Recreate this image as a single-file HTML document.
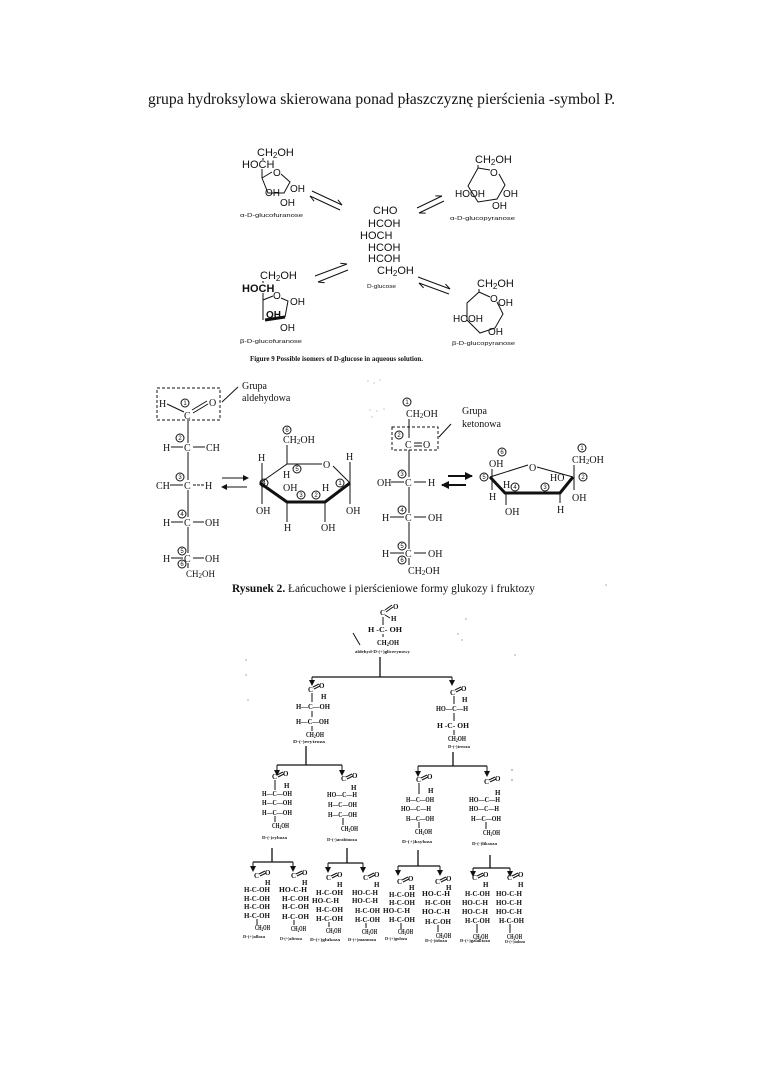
<!DOCTYPE html>
<html><head><meta charset="utf-8">
<style>
html,body{margin:0;padding:0;background:#fff;}
body{width:760px;height:1075px;position:relative;overflow:hidden;}
svg{position:absolute;left:0;top:0;}
.s{font-family:"Liberation Sans",sans-serif;fill:#111;}
.r{font-family:"Liberation Serif",serif;fill:#111;}
.t{font-family:"Liberation Serif",serif;fill:#111;font-weight:bold;font-size:7px;}
.cap{font-family:"Liberation Serif",serif;fill:#222;font-weight:bold;font-size:4.6px;}
.ln{stroke:#111;stroke-width:1;fill:none;}
.tl{stroke:#111;stroke-width:1.3;fill:none;}
.bd{stroke:#111;stroke-width:3;fill:none;stroke-linejoin:round;}
.cn{font-family:"Liberation Sans",sans-serif;font-size:6px;fill:#111;text-anchor:middle;}
</style></head>
<body>
<svg width="760" height="1075" viewBox="0 0 760 1075" xmlns="http://www.w3.org/2000/svg">
<defs>
<marker id="ah" markerWidth="6" markerHeight="6" refX="5" refY="3" orient="auto" markerUnits="userSpaceOnUse"><path d="M0,0 L6,3 L0,6 z" fill="#111"/></marker>
<marker id="ah2" markerWidth="8" markerHeight="8" refX="7" refY="4" orient="auto" markerUnits="userSpaceOnUse"><path d="M0,0 L8,4 L0,8 z" fill="#111"/></marker>
</defs>

<!-- Title -->
<text x="148" y="104" class="r" font-size="16" textLength="467" lengthAdjust="spacingAndGlyphs">grupa hydroksylowa skierowana ponad płaszczyznę pierścienia -symbol P.</text>

<!-- ============ FIGURE 9 ============ -->
<text x="257" y="156" class="s" font-size="11">CH<tspan font-size="8" dy="2">2</tspan><tspan dy="-2">OH</tspan></text>
<text x="242" y="168" class="s" font-size="11">HOCH</text>
<line x1="263" y1="158" x2="263" y2="160" class="ln"/>
<line x1="262" y1="169" x2="262" y2="178" class="ln"/>
<polyline points="262,178 272,172" class="ln"/>
<text x="273" y="176" class="s" font-size="10">O</text>
<polyline points="281,174 290,182 284,193 268,193 262,178" class="ln"/>
<text x="265" y="196" class="s" font-size="10">OH</text>
<text x="290" y="192" class="s" font-size="10">OH</text>
<text x="280" y="206" class="s" font-size="10">OH</text>
<text x="240" y="217" class="s" font-size="5" textLength="63" lengthAdjust="spacingAndGlyphs">α-D-glucofuranose</text>

<line x1="312" y1="191" x2="342" y2="205" class="ln"/><line x1="342" y1="205" x2="337.9" y2="199.8" class="ln"/>
<line x1="340" y1="210" x2="310" y2="196" class="ln"/><line x1="310" y1="196" x2="314.1" y2="201.2" class="ln"/>

<text x="373" y="214" class="s" font-size="11">CHO</text>
<text x="368" y="227" class="s" font-size="11">HCOH</text>
<text x="360" y="239" class="s" font-size="11">HOCH</text>
<text x="368" y="251" class="s" font-size="11">HCOH</text>
<text x="368" y="262" class="s" font-size="11">HCOH</text>
<text x="377" y="274" class="s" font-size="11">CH<tspan font-size="8" dy="2">2</tspan><tspan dy="-2">OH</tspan></text>
<text x="367" y="288" class="s" font-size="5" textLength="29" lengthAdjust="spacingAndGlyphs">D-glucose</text>

<line x1="417" y1="208" x2="442" y2="196" class="ln"/><line x1="442" y1="196" x2="435.3" y2="195.9" class="ln"/>
<line x1="444" y1="201" x2="419" y2="213" class="ln"/><line x1="419" y1="213" x2="425.7" y2="213.1" class="ln"/>

<text x="475" y="163" class="s" font-size="11">CH<tspan font-size="8" dy="2">2</tspan><tspan dy="-2">OH</tspan></text>
<polyline points="478,165 478,168 468,186 478,202 497,199 505,185 499,174" class="ln"/>
<line x1="478" y1="168" x2="490" y2="170" class="ln"/>
<text x="490" y="176" class="s" font-size="10">O</text>
<text x="455" y="197" class="s" font-size="10">HO</text>
<text x="470" y="197" class="s" font-size="10">OH</text>
<text x="503" y="197" class="s" font-size="10">OH</text>
<text x="492" y="209" class="s" font-size="10">OH</text>
<text x="450" y="220" class="s" font-size="5" textLength="65" lengthAdjust="spacingAndGlyphs">α-D-glucopyranose</text>

<line x1="315" y1="276" x2="347" y2="264" class="ln"/><line x1="347" y1="264" x2="340.3" y2="263.3" class="ln"/>
<line x1="348" y1="270" x2="318" y2="282" class="ln"/><line x1="318" y1="282" x2="324.6" y2="282.7" class="ln"/>

<text x="260" y="279" class="s" font-size="11">CH<tspan font-size="8" dy="2">2</tspan><tspan dy="-2">OH</tspan></text>
<text x="242" y="292" class="s" font-size="11" font-weight="bold">HOCH</text>
<line x1="263" y1="281" x2="263" y2="283" class="ln"/>
<line x1="263" y1="293" x2="263" y2="320" class="ln" stroke-width="1.5"/>
<line x1="263" y1="300" x2="273" y2="296" class="ln"/>
<text x="273" y="299" class="s" font-size="10">O</text>
<polyline points="281,298 288,301 285,317" class="ln"/>
<line x1="265" y1="320" x2="285" y2="317" class="bd"/>
<text x="290" y="305" class="s" font-size="10">OH</text>
<text x="266" y="318" class="s" font-size="10" font-weight="bold">OH</text>
<text x="280" y="331" class="s" font-size="10">OH</text>
<text x="240" y="343" class="s" font-size="5" textLength="62" lengthAdjust="spacingAndGlyphs">β-D-glucofuranose</text>

<line x1="418" y1="277" x2="450" y2="289" class="ln"/><line x1="450" y1="289" x2="445.5" y2="284.1" class="ln"/>
<line x1="449" y1="294" x2="419" y2="283" class="ln"/><line x1="419" y1="283" x2="423.6" y2="287.9" class="ln"/>

<text x="477" y="287" class="s" font-size="11">CH<tspan font-size="8" dy="2">2</tspan><tspan dy="-2">OH</tspan></text>
<polyline points="479,289 479,292 467,303 467,320 480,333 495,328 503,314 497,302" class="ln"/>
<line x1="479" y1="292" x2="490" y2="297" class="ln"/>
<text x="490" y="302" class="s" font-size="10">O</text>
<text x="498" y="306" class="s" font-size="10">OH</text>
<text x="453" y="322" class="s" font-size="10">HO</text>
<text x="468" y="322" class="s" font-size="10">OH</text>
<text x="488" y="335" class="s" font-size="10">OH</text>
<text x="452" y="345" class="s" font-size="5" textLength="63" lengthAdjust="spacingAndGlyphs">β-D-glucopyranose</text>

<text x="250" y="361" class="r" font-size="7" font-weight="bold" textLength="173" lengthAdjust="spacingAndGlyphs">Figure 9   Possible isomers of D-glucose in aqueous solution.</text>

<!-- ============ FIGURE 2 ============ -->
<rect x="157" y="388" width="63" height="32" fill="none" stroke="#111" stroke-width="1" stroke-dasharray="3,2"/>
<text x="159" y="407" class="r" font-size="10">H</text>
<line x1="167" y1="404" x2="184" y2="412" class="ln"/>
<circle cx="185" cy="403" r="4" class="ln"/><text x="185" y="405" class="cn">1</text>
<line x1="192" y1="410" x2="207" y2="401" class="ln"/><line x1="193" y1="413" x2="208" y2="404" class="ln"/>
<text x="209" y="406" class="r" font-size="10">O</text>
<text x="184" y="419" class="r" font-size="10">C</text>
<line x1="222" y1="402" x2="238" y2="387" class="ln"/>
<text x="242" y="389" class="r" font-size="10">Grupa</text>
<text x="242" y="401" class="r" font-size="10">aldehydowa</text>
<line x1="188" y1="421" x2="188" y2="443" class="ln"/>
<line x1="188" y1="452" x2="188" y2="480" class="ln"/>
<line x1="188" y1="490" x2="188" y2="517" class="ln"/>
<line x1="188" y1="527" x2="188" y2="553" class="ln"/>

<text x="163" y="451" class="r" font-size="10">H</text><line x1="171" y1="447" x2="183" y2="447" class="ln"/>
<text x="184" y="451" class="r" font-size="10">C</text><line x1="193" y1="447" x2="205" y2="447" class="ln"/>
<text x="206" y="451" class="r" font-size="10">CH</text>
<circle cx="180" cy="438" r="4" class="ln"/><text x="180" y="440" class="cn">2</text>

<text x="156" y="489" class="r" font-size="10">CH</text><line x1="170" y1="485" x2="183" y2="485" class="ln"/>
<text x="184" y="489" class="r" font-size="10">C</text><line x1="193" y1="485" x2="204" y2="485" class="ln" stroke-dasharray="3,1"/>
<text x="205" y="489" class="r" font-size="10">H</text>
<circle cx="180" cy="477" r="4" class="ln"/><text x="180" y="479" class="cn">3</text>

<text x="163" y="526" class="r" font-size="10">H</text><line x1="171" y1="522" x2="183" y2="522" class="ln"/>
<text x="184" y="526" class="r" font-size="10">C</text><line x1="193" y1="522" x2="204" y2="522" class="ln"/>
<text x="205" y="526" class="r" font-size="10">OH</text>
<circle cx="182" cy="514" r="4" class="ln"/><text x="182" y="516" class="cn">4</text>

<text x="163" y="562" class="r" font-size="10">H</text><line x1="171" y1="558" x2="183" y2="558" class="ln"/>
<text x="184" y="562" class="r" font-size="10">C</text><line x1="193" y1="558" x2="204" y2="558" class="ln"/>
<text x="205" y="562" class="r" font-size="10">OH</text>
<circle cx="182" cy="551" r="4" class="ln"/><text x="182" y="553" class="cn">5</text>
<circle cx="182" cy="564" r="4" class="ln"/><text x="182" y="566" class="cn">6</text>
<line x1="188" y1="563" x2="188" y2="568" class="ln"/>
<text x="186" y="577" class="r" font-size="9">CH<tspan font-size="7" dy="1">2</tspan><tspan dy="-1">OH</tspan></text>

<line x1="222" y1="478" x2="248" y2="478" class="ln" marker-end="url(#ah)"/>
<line x1="247" y1="487" x2="222" y2="487" class="ln" marker-end="url(#ah)"/>

<polyline points="260,483 287,464 322,464" class="ln"/>
<polyline points="333,466 350,483" class="ln"/>
<text x="323" y="468" class="r" font-size="10">O</text>
<polyline points="260,483 287,502 325,502 350,483" class="bd"/>
<circle cx="287" cy="430" r="4" class="ln"/><text x="287" y="432" class="cn">6</text>
<text x="283" y="443" class="r" font-size="10">CH<tspan font-size="7" dy="1">2</tspan><tspan dy="-1">OH</tspan></text>
<line x1="287" y1="445" x2="287" y2="464" class="ln"/>
<text x="283" y="478" class="r" font-size="10">H</text>
<circle cx="297" cy="469" r="4" class="ln"/><text x="297" y="471" class="cn">5</text>
<text x="258" y="461" class="r" font-size="10">H</text>
<line x1="262" y1="463" x2="262" y2="504" class="ln"/>
<circle cx="264" cy="483" r="4" class="ln"/><text x="264" y="485" class="cn">4</text>
<text x="256" y="514" class="r" font-size="10">OH</text>
<text x="283" y="491" class="r" font-size="10">OH</text>
<circle cx="301" cy="495" r="4" class="ln"/><text x="301" y="497" class="cn">3</text>
<line x1="287" y1="502" x2="287" y2="522" class="ln"/>
<text x="284" y="531" class="r" font-size="10">H</text>
<text x="322" y="491" class="r" font-size="10">H</text>
<circle cx="316" cy="495" r="4" class="ln"/><text x="316" y="497" class="cn">2</text>
<line x1="325" y1="502" x2="325" y2="522" class="ln"/>
<text x="321" y="531" class="r" font-size="10">OH</text>
<text x="346" y="460" class="r" font-size="10">H</text>
<line x1="350" y1="462" x2="350" y2="504" class="ln"/>
<circle cx="340" cy="483" r="4" class="ln"/><text x="340" y="485" class="cn">1</text>
<text x="346" y="514" class="r" font-size="10">OH</text>

<!-- fructose chain -->
<circle cx="407" cy="402" r="4" class="ln"/><text x="407" y="404" class="cn">1</text>
<text x="406" y="417" class="r" font-size="10">CH<tspan font-size="7" dy="1">2</tspan><tspan dy="-1">OH</tspan></text>
<rect x="392" y="427" width="46" height="23" fill="none" stroke="#111" stroke-width="1" stroke-dasharray="3,2"/>
<line x1="409" y1="419" x2="409" y2="438" class="ln"/>
<circle cx="399" cy="435" r="4" class="ln"/><text x="399" y="437" class="cn">2</text>
<text x="405" y="448" class="r" font-size="10">C</text>
<line x1="414" y1="443" x2="422" y2="443" class="ln" stroke-width="1.5"/><line x1="414" y1="446" x2="422" y2="446" class="ln" stroke-width="1.5"/>
<text x="423" y="448" class="r" font-size="10">O</text>
<line x1="439" y1="437" x2="451" y2="424" class="ln"/>
<text x="462" y="414" class="r" font-size="10">Grupa</text>
<text x="462" y="427" class="r" font-size="10">ketonowa</text>
<line x1="409" y1="450" x2="409" y2="477" class="ln"/>
<line x1="409" y1="487" x2="409" y2="513" class="ln"/>
<line x1="409" y1="522" x2="409" y2="549" class="ln"/>

<text x="377" y="486" class="r" font-size="10">OH</text><line x1="391" y1="482" x2="404" y2="482" class="ln"/>
<text x="405" y="486" class="r" font-size="10">C</text><line x1="414" y1="482" x2="426" y2="482" class="ln"/>
<text x="428" y="486" class="r" font-size="10">H</text>
<circle cx="402" cy="474" r="4" class="ln"/><text x="402" y="476" class="cn">3</text>

<text x="382" y="521" class="r" font-size="10">H</text><line x1="390" y1="517" x2="404" y2="517" class="ln"/>
<text x="405" y="521" class="r" font-size="10">C</text><line x1="414" y1="517" x2="426" y2="517" class="ln"/>
<text x="428" y="521" class="r" font-size="10">OH</text>
<circle cx="402" cy="510" r="4" class="ln"/><text x="402" y="512" class="cn">4</text>

<text x="382" y="557" class="r" font-size="10">H</text><line x1="390" y1="553" x2="404" y2="553" class="ln"/>
<text x="405" y="557" class="r" font-size="10">C</text><line x1="414" y1="553" x2="426" y2="553" class="ln"/>
<text x="428" y="557" class="r" font-size="10">OH</text>
<circle cx="402" cy="546" r="4" class="ln"/><text x="402" y="548" class="cn">5</text>
<circle cx="402" cy="560" r="4" class="ln"/><text x="402" y="562" class="cn">6</text>
<line x1="409" y1="558" x2="409" y2="565" class="ln"/>
<text x="408" y="574" class="r" font-size="10">CH<tspan font-size="7" dy="1">2</tspan><tspan dy="-1">OH</tspan></text>

<line x1="448" y1="476" x2="472" y2="476" stroke="#111" stroke-width="2" marker-end="url(#ah2)"/>
<line x1="466" y1="485" x2="442" y2="485" stroke="#111" stroke-width="2" marker-end="url(#ah2)"/>

<!-- fructofuranose -->
<polyline points="490,477 528,465" class="ln"/>
<text x="529" y="471" class="r" font-size="10">O</text>
<polyline points="537,467 573,477" class="ln"/>
<polyline points="490,477 505,493 560,493 573,477" class="bd"/>
<circle cx="502" cy="452" r="4" class="ln"/><text x="502" y="454" class="cn">6</text>
<text x="489" y="467" class="r" font-size="10">OH</text>
<line x1="492" y1="469" x2="492" y2="490" class="ln"/>
<circle cx="484" cy="477" r="4" class="ln"/><text x="484" y="479" class="cn">5</text>
<text x="489" y="500" class="r" font-size="10">H</text>
<text x="503" y="488" class="r" font-size="10">H</text>
<circle cx="515" cy="487" r="4" class="ln"/><text x="515" y="489" class="cn">4</text>
<line x1="506" y1="493" x2="506" y2="505" class="ln"/>
<text x="505" y="515" class="r" font-size="10">OH</text>
<circle cx="545" cy="487" r="4" class="ln"/><text x="545" y="489" class="cn">3</text>
<text x="550" y="481" class="r" font-size="10">HO</text>
<line x1="560" y1="493" x2="560" y2="503" class="ln"/>
<text x="557" y="513" class="r" font-size="10">H</text>
<circle cx="582" cy="448" r="4" class="ln"/><text x="582" y="450" class="cn">1</text>
<text x="572" y="463" class="r" font-size="10">CH<tspan font-size="7" dy="1">2</tspan><tspan dy="-1">OH</tspan></text>
<line x1="574" y1="465" x2="574" y2="490" class="ln"/>
<circle cx="583" cy="477" r="4" class="ln"/><text x="583" y="479" class="cn">2</text>
<text x="572" y="501" class="r" font-size="10">OH</text>

<text x="232" y="592" class="r" font-size="11.5" textLength="303" lengthAdjust="spacingAndGlyphs"><tspan font-weight="bold">Rysunek 2.</tspan> Łańcuchowe i pierścieniowe formy glukozy i fruktozy</text>

<!-- scan noise (faint specks) -->
<g fill="#c8c8c8">
<circle cx="368" cy="381" r="0.8"/><circle cx="374" cy="383" r="0.8"/><circle cx="380" cy="380" r="0.8"/><circle cx="370" cy="410" r="0.8"/><circle cx="377" cy="411" r="0.8"/><circle cx="384" cy="409" r="0.8"/><circle cx="372" cy="417" r="0.8"/>
<circle cx="246" cy="660" r="1"/><circle cx="246" cy="675" r="1"/><circle cx="248" cy="700" r="1"/><circle cx="515" cy="655" r="1"/><circle cx="512" cy="770" r="1.2"/><circle cx="512" cy="780" r="1.2"/><circle cx="462" cy="640" r="1"/><circle cx="458" cy="634" r="1"/><circle cx="606" cy="585" r="1"/><circle cx="466" cy="619" r="1"/>
</g>

<!-- ============ TREE ============ -->
<text x="380" y="615" class="t">C</text>
<line x1="385" y1="610" x2="392" y2="605" class="ln" stroke-width="0.8"/><line x1="386" y1="612" x2="393" y2="607" class="ln" stroke-width="0.8"/>
<text x="393" y="609" class="t">O</text>
<line x1="385" y1="615" x2="390" y2="618" class="ln" stroke-width="0.8"/>
<text x="391" y="621" class="t">H</text>
<line x1="383" y1="617" x2="383" y2="625" class="ln" stroke-width="1.5"/>
<text x="368" y="632" class="t" textLength="34" lengthAdjust="spacingAndGlyphs">H  -C-  OH</text>
<line x1="383" y1="634" x2="383" y2="637" class="ln"/>
<text x="377" y="645" class="t" textLength="22" lengthAdjust="spacingAndGlyphs">CH<tspan font-size="5" dy="1">2</tspan><tspan dy="-1">OH</tspan></text>
<text x="355" y="653" class="cap" textLength="55" lengthAdjust="spacingAndGlyphs">aldehyd-D-(+)glicerynowy</text>
<line x1="353" y1="633" x2="360" y2="645" class="ln" stroke-width="0.8"/>

<line x1="380" y1="657" x2="380" y2="677" class="tl"/>
<line x1="312" y1="677" x2="452" y2="677" class="tl" stroke-width="1.5"/>
<line x1="312" y1="677" x2="312" y2="685" class="ln" marker-end="url(#ah)"/>
<line x1="452" y1="677" x2="452" y2="685" class="ln" marker-end="url(#ah)"/>

<!-- erythrose -->
<text x="308" y="692" class="t">C</text>
<line x1="313" y1="687" x2="319" y2="684" class="ln" stroke-width="0.8"/><line x1="314" y1="689" x2="320" y2="686" class="ln" stroke-width="0.8"/>
<text x="319" y="688" class="t">O</text>
<text x="321" y="699" class="t">H</text>
<line x1="312" y1="693" x2="312" y2="702" class="ln" stroke-width="1.5"/>
<text x="296" y="709" class="t" textLength="34" lengthAdjust="spacingAndGlyphs">H—C—OH</text>
<line x1="312" y1="711" x2="312" y2="717" class="ln"/>
<text x="296" y="724" class="t" textLength="33" lengthAdjust="spacingAndGlyphs">H—C—OH</text>
<line x1="312" y1="726" x2="312" y2="731" class="ln"/>
<text x="306" y="737" class="t" textLength="18" lengthAdjust="spacingAndGlyphs">CH<tspan font-size="5" dy="1">2</tspan><tspan dy="-1">OH</tspan></text>
<text x="293" y="743" class="cap" textLength="32" lengthAdjust="spacingAndGlyphs">D-(-)erytroza</text>

<!-- threose -->
<text x="450" y="695" class="t">C</text>
<line x1="455" y1="690" x2="461" y2="687" class="ln" stroke-width="0.8"/><line x1="456" y1="692" x2="462" y2="689" class="ln" stroke-width="0.8"/>
<text x="461" y="691" class="t">O</text>
<text x="462" y="702" class="t">H</text>
<line x1="454" y1="696" x2="454" y2="704" class="ln"/>
<text x="436" y="711" class="t" textLength="32" lengthAdjust="spacingAndGlyphs">HO—C—H</text>
<line x1="454" y1="713" x2="454" y2="721" class="ln"/>
<text x="437" y="728" class="t" textLength="32" lengthAdjust="spacingAndGlyphs">H  -C-  OH</text>
<line x1="454" y1="730" x2="454" y2="735" class="ln"/>
<text x="448" y="741" class="t" textLength="18" lengthAdjust="spacingAndGlyphs">CH<tspan font-size="5" dy="1">2</tspan><tspan dy="-1">OH</tspan></text>
<text x="448" y="748" class="cap" textLength="22" lengthAdjust="spacingAndGlyphs">D-(-)treoza</text>

<!-- tree level 3 lines -->
<line x1="306" y1="746" x2="306" y2="765" class="tl"/>
<line x1="277" y1="765" x2="342" y2="765" class="tl" stroke-width="1.5"/>
<line x1="277" y1="765" x2="277" y2="775" class="ln" marker-end="url(#ah)"/>
<line x1="342" y1="765" x2="342" y2="775" class="ln" marker-end="url(#ah)"/>
<line x1="453" y1="752" x2="453" y2="766" class="tl"/>
<line x1="418" y1="766" x2="487" y2="766" class="tl" stroke-width="1.5"/>
<line x1="418" y1="766" x2="418" y2="776" class="ln" marker-end="url(#ah)"/>
<line x1="487" y1="766" x2="487" y2="776" class="ln" marker-end="url(#ah)"/>

<!-- ribose -->
<text x="272" y="779" class="t">C</text>
<line x1="277" y1="775" x2="283" y2="772" class="ln" stroke-width="0.8"/><line x1="278" y1="777" x2="284" y2="774" class="ln" stroke-width="0.8"/>
<text x="283" y="776" class="t">O</text>
<text x="284" y="788" class="t">H</text>
<line x1="275" y1="780" x2="275" y2="790" class="ln" stroke-width="1.5"/>
<text x="262" y="796" class="t" textLength="30" lengthAdjust="spacingAndGlyphs">H—C—OH</text>
<text x="262" y="805" class="t" textLength="30" lengthAdjust="spacingAndGlyphs">H—C—OH</text>
<text x="262" y="815" class="t" textLength="30" lengthAdjust="spacingAndGlyphs">H—C—OH</text>
<line x1="275" y1="816" x2="275" y2="822" class="ln"/>
<text x="272" y="828" class="t" textLength="17" lengthAdjust="spacingAndGlyphs">CH<tspan font-size="5" dy="1">2</tspan><tspan dy="-1">OH</tspan></text>
<text x="262" y="839" class="cap" textLength="25" lengthAdjust="spacingAndGlyphs">D-(-)ryboza</text>

<!-- arabinose -->
<text x="341" y="781" class="t">C</text>
<line x1="346" y1="777" x2="352" y2="774" class="ln" stroke-width="0.8"/><line x1="347" y1="779" x2="353" y2="776" class="ln" stroke-width="0.8"/>
<text x="352" y="778" class="t">O</text>
<text x="351" y="790" class="t">H</text>
<text x="327" y="797" class="t" textLength="30" lengthAdjust="spacingAndGlyphs">HO—C—H</text>
<text x="328" y="807" class="t" textLength="29" lengthAdjust="spacingAndGlyphs">H—C—OH</text>
<text x="328" y="817" class="t" textLength="29" lengthAdjust="spacingAndGlyphs">H—C—OH</text>
<line x1="343" y1="818" x2="343" y2="825" class="ln"/>
<text x="341" y="831" class="t" textLength="17" lengthAdjust="spacingAndGlyphs">CH<tspan font-size="5" dy="1">2</tspan><tspan dy="-1">OH</tspan></text>
<text x="327" y="841" class="cap" textLength="30" lengthAdjust="spacingAndGlyphs">D-(-)arabinoza</text>

<!-- xylose -->
<text x="416" y="782" class="t">C</text>
<line x1="421" y1="778" x2="427" y2="775" class="ln" stroke-width="0.8"/><line x1="422" y1="780" x2="428" y2="777" class="ln" stroke-width="0.8"/>
<text x="427" y="779" class="t">O</text>
<text x="428" y="793" class="t">H</text>
<line x1="419" y1="783" x2="419" y2="794" class="ln" stroke-width="1.5"/>
<text x="406" y="802" class="t" textLength="28" lengthAdjust="spacingAndGlyphs">H—C—OH</text>
<text x="401" y="811" class="t" textLength="30" lengthAdjust="spacingAndGlyphs">HO—C—H</text>
<text x="406" y="821" class="t" textLength="28" lengthAdjust="spacingAndGlyphs">H—C—OH</text>
<line x1="419" y1="822" x2="419" y2="828" class="ln"/>
<text x="415" y="834" class="t" textLength="17" lengthAdjust="spacingAndGlyphs">CH<tspan font-size="5" dy="1">2</tspan><tspan dy="-1">OH</tspan></text>
<text x="402" y="843" class="cap" textLength="30" lengthAdjust="spacingAndGlyphs">D-(+)ksyloza</text>

<!-- lyxose -->
<text x="484" y="784" class="t">C</text>
<line x1="489" y1="780" x2="495" y2="777" class="ln" stroke-width="0.8"/><line x1="490" y1="782" x2="496" y2="779" class="ln" stroke-width="0.8"/>
<text x="495" y="781" class="t">O</text>
<text x="495" y="795" class="t">H</text>
<text x="469" y="802" class="t" textLength="31" lengthAdjust="spacingAndGlyphs">HO—C—H</text>
<text x="469" y="811" class="t" textLength="30" lengthAdjust="spacingAndGlyphs">HO—C—H</text>
<text x="471" y="821" class="t" textLength="30" lengthAdjust="spacingAndGlyphs">H—C—OH</text>
<line x1="486" y1="822" x2="486" y2="829" class="ln"/>
<text x="483" y="835" class="t" textLength="17" lengthAdjust="spacingAndGlyphs">CH<tspan font-size="5" dy="1">2</tspan><tspan dy="-1">OH</tspan></text>
<text x="472" y="845" class="cap" textLength="25" lengthAdjust="spacingAndGlyphs">D-(-)liksoza</text>

<!-- level 4 lines -->
<line x1="272" y1="848" x2="272" y2="862" class="tl"/>
<line x1="253" y1="862" x2="293" y2="862" class="tl" stroke-width="1.5"/>
<line x1="253" y1="862" x2="253" y2="871" class="ln" marker-end="url(#ah)"/>
<line x1="293" y1="862" x2="293" y2="871" class="ln" marker-end="url(#ah)"/>
<line x1="347" y1="848" x2="347" y2="863" class="tl"/>
<line x1="328" y1="863" x2="363" y2="863" class="tl" stroke-width="1.5"/>
<line x1="328" y1="863" x2="328" y2="872" class="ln" marker-end="url(#ah)"/>
<line x1="363" y1="863" x2="363" y2="872" class="ln" marker-end="url(#ah)"/>
<line x1="418" y1="850" x2="418" y2="866" class="tl"/>
<line x1="398" y1="866" x2="440" y2="866" class="tl" stroke-width="1.5"/>
<line x1="398" y1="866" x2="398" y2="875" class="ln" marker-end="url(#ah)"/>
<line x1="440" y1="866" x2="440" y2="875" class="ln" marker-end="url(#ah)"/>
<line x1="490" y1="855" x2="490" y2="868" class="tl"/>
<line x1="473" y1="868" x2="510" y2="868" class="tl" stroke-width="1.5"/>
<line x1="473" y1="868" x2="473" y2="876" class="ln" marker-end="url(#ah)"/>
<line x1="510" y1="868" x2="510" y2="876" class="ln" marker-end="url(#ah)"/>

<!-- allose -->
<text x="254" y="878" class="t">C</text>
<line x1="259" y1="874" x2="265" y2="871" class="ln" stroke-width="0.8"/><line x1="260" y1="876" x2="266" y2="873" class="ln" stroke-width="0.8"/>
<text x="265" y="875" class="t">O</text>
<text x="265" y="885" class="t">H</text>
<text x="244" y="892" class="t" textLength="26" lengthAdjust="spacingAndGlyphs">H-C-OH</text>
<text x="244" y="901" class="t" textLength="26" lengthAdjust="spacingAndGlyphs">H-C-OH</text>
<text x="244" y="909" class="t" textLength="26" lengthAdjust="spacingAndGlyphs">H-C-OH</text>
<text x="244" y="918" class="t" textLength="26" lengthAdjust="spacingAndGlyphs">H-C-OH</text>
<line x1="257" y1="919" x2="257" y2="925" class="ln" stroke-width="1.5"/>
<text x="255" y="930" class="t" textLength="15" lengthAdjust="spacingAndGlyphs">CH<tspan font-size="5" dy="1">2</tspan><tspan dy="-1">OH</tspan></text>
<text x="243" y="938" class="cap" textLength="22" lengthAdjust="spacingAndGlyphs">D-(+)alloza</text>

<!-- altrose -->
<text x="291" y="878" class="t">C</text>
<line x1="296" y1="874" x2="302" y2="871" class="ln" stroke-width="0.8"/><line x1="297" y1="876" x2="303" y2="873" class="ln" stroke-width="0.8"/>
<text x="302" y="875" class="t">O</text>
<text x="302" y="885" class="t">H</text>
<text x="279" y="892" class="t" textLength="28" lengthAdjust="spacingAndGlyphs">HO-C-H</text>
<text x="282" y="901" class="t" textLength="27" lengthAdjust="spacingAndGlyphs">H-C-OH</text>
<text x="282" y="909" class="t" textLength="27" lengthAdjust="spacingAndGlyphs">H-C-OH</text>
<text x="282" y="919" class="t" textLength="27" lengthAdjust="spacingAndGlyphs">H-C-OH</text>
<line x1="294" y1="920" x2="294" y2="925" class="ln"/>
<text x="291" y="931" class="t" textLength="15" lengthAdjust="spacingAndGlyphs">CH<tspan font-size="5" dy="1">2</tspan><tspan dy="-1">OH</tspan></text>
<text x="280" y="940" class="cap" textLength="22" lengthAdjust="spacingAndGlyphs">D-(+)altroza</text>

<!-- glucose -->
<text x="326" y="880" class="t">C</text>
<line x1="331" y1="876" x2="337" y2="873" class="ln" stroke-width="0.8"/><line x1="332" y1="878" x2="338" y2="875" class="ln" stroke-width="0.8"/>
<text x="337" y="877" class="t">O</text>
<text x="337" y="887" class="t">H</text>
<text x="316" y="895" class="t" textLength="27" lengthAdjust="spacingAndGlyphs">H-C-OH</text>
<text x="312" y="903" class="t" textLength="27" lengthAdjust="spacingAndGlyphs">HO-C-H</text>
<text x="316" y="912" class="t" textLength="27" lengthAdjust="spacingAndGlyphs">H-C-OH</text>
<text x="316" y="921" class="t" textLength="27" lengthAdjust="spacingAndGlyphs">H-C-OH</text>
<line x1="329" y1="922" x2="329" y2="927" class="ln" stroke-width="1.5"/>
<text x="326" y="933" class="t" textLength="15" lengthAdjust="spacingAndGlyphs">CH<tspan font-size="5" dy="1">2</tspan><tspan dy="-1">OH</tspan></text>
<text x="310" y="941" class="cap" textLength="30" lengthAdjust="spacingAndGlyphs">D-(+)glukoza</text>

<!-- mannose -->
<text x="363" y="880" class="t">C</text>
<line x1="368" y1="876" x2="374" y2="873" class="ln" stroke-width="0.8"/><line x1="369" y1="878" x2="375" y2="875" class="ln" stroke-width="0.8"/>
<text x="374" y="877" class="t">O</text>
<text x="374" y="887" class="t">H</text>
<text x="352" y="895" class="t" textLength="26" lengthAdjust="spacingAndGlyphs">HO-C-H</text>
<text x="352" y="903" class="t" textLength="26" lengthAdjust="spacingAndGlyphs">HO-C-H</text>
<text x="355" y="913" class="t" textLength="25" lengthAdjust="spacingAndGlyphs">H-C-OH</text>
<text x="355" y="922" class="t" textLength="25" lengthAdjust="spacingAndGlyphs">H-C-OH</text>
<line x1="366" y1="923" x2="366" y2="928" class="ln"/>
<text x="362" y="934" class="t" textLength="15" lengthAdjust="spacingAndGlyphs">CH<tspan font-size="5" dy="1">2</tspan><tspan dy="-1">OH</tspan></text>
<text x="348" y="941" class="cap" textLength="28" lengthAdjust="spacingAndGlyphs">D-(+)mannoza</text>

<!-- gulose -->
<text x="397" y="884" class="t">C</text>
<line x1="402" y1="880" x2="408" y2="877" class="ln" stroke-width="0.8"/><line x1="403" y1="882" x2="409" y2="879" class="ln" stroke-width="0.8"/>
<text x="408" y="881" class="t">O</text>
<text x="409" y="890" class="t">H</text>
<text x="389" y="897" class="t" textLength="26" lengthAdjust="spacingAndGlyphs">H-C-OH</text>
<text x="389" y="905" class="t" textLength="26" lengthAdjust="spacingAndGlyphs">H-C-OH</text>
<text x="383" y="913" class="t" textLength="27" lengthAdjust="spacingAndGlyphs">HO-C-H</text>
<text x="389" y="922" class="t" textLength="26" lengthAdjust="spacingAndGlyphs">H-C-OH</text>
<line x1="401" y1="923" x2="401" y2="929" class="ln" stroke-width="1.5"/>
<text x="398" y="934" class="t" textLength="15" lengthAdjust="spacingAndGlyphs">CH<tspan font-size="5" dy="1">2</tspan><tspan dy="-1">OH</tspan></text>
<text x="385" y="940" class="cap" textLength="22" lengthAdjust="spacingAndGlyphs">D-(+)guloza</text>

<!-- idose -->
<text x="435" y="884" class="t">C</text>
<line x1="440" y1="880" x2="446" y2="877" class="ln" stroke-width="0.8"/><line x1="441" y1="882" x2="447" y2="879" class="ln" stroke-width="0.8"/>
<text x="446" y="881" class="t">O</text>
<text x="446" y="890" class="t">H</text>
<text x="422" y="896" class="t" textLength="28" lengthAdjust="spacingAndGlyphs">HO-C-H</text>
<text x="425" y="905" class="t" textLength="26" lengthAdjust="spacingAndGlyphs">H-C-OH</text>
<text x="422" y="914" class="t" textLength="28" lengthAdjust="spacingAndGlyphs">HO-C-H</text>
<text x="425" y="924" class="t" textLength="26" lengthAdjust="spacingAndGlyphs">H-C-OH</text>
<line x1="438" y1="925" x2="438" y2="932" class="ln"/>
<text x="436" y="938" class="t" textLength="15" lengthAdjust="spacingAndGlyphs">CH<tspan font-size="5" dy="1">2</tspan><tspan dy="-1">OH</tspan></text>
<text x="425" y="942" class="cap" textLength="22" lengthAdjust="spacingAndGlyphs">D-(-)idoza</text>

<!-- galactose -->
<text x="472" y="880" class="t">C</text>
<line x1="477" y1="876" x2="483" y2="873" class="ln" stroke-width="0.8"/><line x1="478" y1="878" x2="484" y2="875" class="ln" stroke-width="0.8"/>
<text x="483" y="877" class="t">O</text>
<text x="483" y="887" class="t">H</text>
<text x="465" y="896" class="t" textLength="25" lengthAdjust="spacingAndGlyphs">H-C-OH</text>
<text x="462" y="905" class="t" textLength="26" lengthAdjust="spacingAndGlyphs">HO-C-H</text>
<text x="462" y="914" class="t" textLength="26" lengthAdjust="spacingAndGlyphs">HO-C-H</text>
<text x="465" y="923" class="t" textLength="25" lengthAdjust="spacingAndGlyphs">H-C-OH</text>
<line x1="477" y1="924" x2="477" y2="933" class="ln"/>
<text x="473" y="939" class="t" textLength="15" lengthAdjust="spacingAndGlyphs">CH<tspan font-size="5" dy="1">2</tspan><tspan dy="-1">OH</tspan></text>
<text x="460" y="942" class="cap" textLength="30" lengthAdjust="spacingAndGlyphs">D-(+)galaktoza</text>

<!-- talose -->
<text x="507" y="880" class="t">C</text>
<line x1="512" y1="876" x2="518" y2="873" class="ln" stroke-width="0.8"/><line x1="513" y1="878" x2="519" y2="875" class="ln" stroke-width="0.8"/>
<text x="518" y="877" class="t">O</text>
<text x="518" y="887" class="t">H</text>
<text x="496" y="896" class="t" textLength="26" lengthAdjust="spacingAndGlyphs">HO-C-H</text>
<text x="496" y="905" class="t" textLength="26" lengthAdjust="spacingAndGlyphs">HO-C-H</text>
<text x="496" y="914" class="t" textLength="26" lengthAdjust="spacingAndGlyphs">HO-C-H</text>
<text x="499" y="923" class="t" textLength="25" lengthAdjust="spacingAndGlyphs">H-C-OH</text>
<line x1="510" y1="924" x2="510" y2="933" class="ln"/>
<text x="507" y="939" class="t" textLength="15" lengthAdjust="spacingAndGlyphs">CH<tspan font-size="5" dy="1">2</tspan><tspan dy="-1">OH</tspan></text>
<text x="505" y="943" class="cap" textLength="20" lengthAdjust="spacingAndGlyphs">D-(+)taloza</text>
</svg>
</body></html>
